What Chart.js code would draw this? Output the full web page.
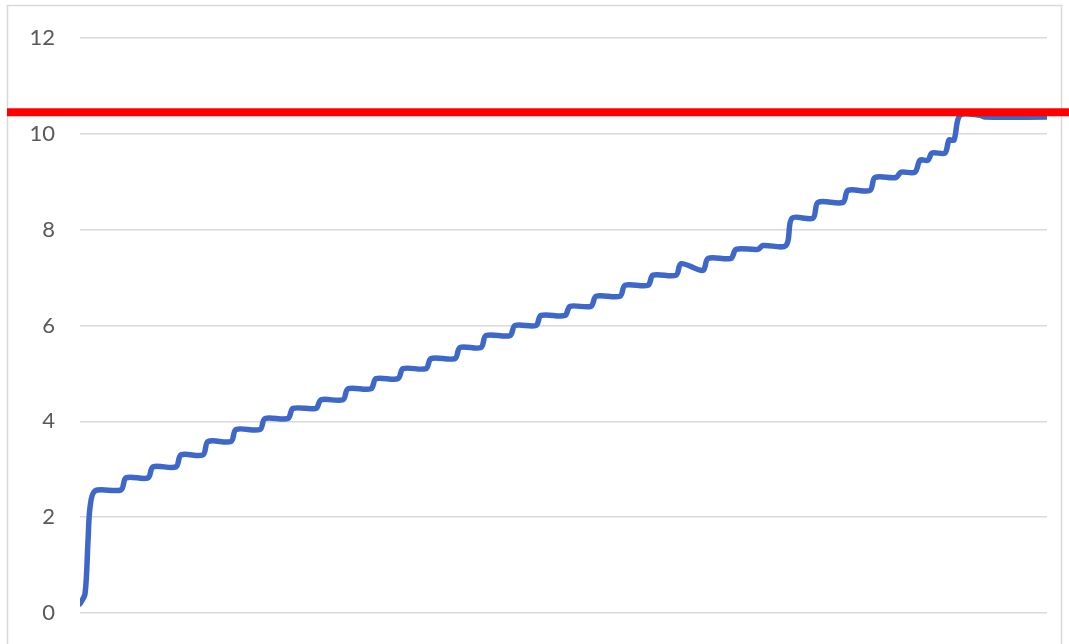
<!DOCTYPE html>
<html lang="en">
<head>
    <meta charset="UTF-8">
    <title>Staircase chart</title>
    <script src="https://cdn.jsdelivr.net/npm/chart.js@4.4.1/dist/chart.umd.min.js"></script>
    <style>
      html, body { margin: 0; padding: 0; background: #fff; overflow: hidden; }
      canvas { display: block; }
    </style>
</head>
<body>
    <canvas id="chartSteps" width="1069" height="644"></canvas>
    <script>
      // sample number along the run
      const sampleX = [0, 5, 8, 10, 15,
        41, 46, 68, 73, 96, 101, 123, 128, 151, 156, 180, 185, 208, 213, 236, 241,
        263, 268, 291, 296, 318, 323, 346, 351, 375, 380, 401, 406, 430, 435, 456, 461,
        485, 490, 511, 516, 540, 545, 568, 573, 596, 601, 623, 628, 651, 656, 678, 683,
        706, 712, 733, 738, 763, 768, 790, 795, 816, 821, 835, 840, 848, 852, 865, 869,
        874, 880, 900, 905, 967];
      // measured value
      const sampleY = [0.19, 0.40, 1.50, 2.20, 2.55,
        2.57, 2.82, 2.82, 3.05, 3.05, 3.30, 3.30, 3.58, 3.58, 3.83, 3.83, 4.06, 4.06, 4.27, 4.27, 4.45,
        4.45, 4.68, 4.68, 4.89, 4.89, 5.10, 5.10, 5.31, 5.31, 5.54, 5.54, 5.79, 5.79, 6.00, 6.00, 6.21,
        6.21, 6.40, 6.40, 6.61, 6.61, 6.84, 6.84, 7.05, 7.05, 7.29, 7.15, 7.40, 7.40, 7.59, 7.59, 7.67,
        7.67, 8.24, 8.24, 8.57, 8.57, 8.82, 8.82, 9.09, 9.09, 9.20, 9.20, 9.45, 9.45, 9.60, 9.60, 9.87,
        9.87, 10.39, 10.39, 10.35, 10.35];
      const yTicks = [0, 2, 4, 6, 8, 10, 12];
      const limitValue = 10.45;

      const points = sampleX.map((x, i) => ({ x: x, y: sampleY[i] }));

      const framePlugin = {
        id: 'frame',
        beforeDraw(chart) {
          const c = chart.ctx;
          c.save();
          c.fillStyle = '#fff';
          c.fillRect(0, 0, chart.width, chart.height);
          c.strokeStyle = '#d9d9d9';
          c.lineWidth = 1.5;
          c.strokeRect(7.5, 5.5, 1054, 660);
          c.restore();
        }
      };

      const limitPlugin = {
        id: 'limitLine',
        afterDatasetsDraw(chart) {
          const c = chart.ctx;
          const y = chart.scales.y.getPixelForValue(limitValue);
          c.save();
          c.strokeStyle = '#ff0000';
          c.lineWidth = 8;
          c.beginPath();
          c.moveTo(7, y);
          c.lineTo(chart.width, y);
          c.stroke();
          c.restore();
        }
      };

      const ctx = document.getElementById('chartSteps').getContext('2d');
      const chartSteps = new Chart(ctx, {
        type: 'line',
        data: {
          datasets: [{
            data: points,
            borderColor: '#3d68c9',
            borderWidth: 5.5,
            pointRadius: 0,
            tension: 0.3,
            borderCapStyle: 'round',
            borderJoinStyle: 'round',
            fill: false
          }]
        },
        options: {
          responsive: false,
          animation: false,
          layout: { padding: { top: 38, right: 22, bottom: 31, left: 0 } },
          plugins: {
            legend: { display: false },
            tooltip: { enabled: false }
          },
          scales: {
            x: {
              type: 'linear',
              display: false,
              min: 0,
              max: 967
            },
            y: {
              min: 0,
              max: 12,
              afterFit: function(scale) {
                scale.width = 80;
                // tick padding should not push the plot area in
                scale.paddingTop = 14;
                scale.paddingBottom = 14;
              },
              afterBuildTicks: function(scale) { scale.ticks = yTicks.map(v => ({ value: v })); },
              border: { display: false },
              grid: { color: '#d9d9d9', lineWidth: 1.5, drawTicks: false },
              ticks: {
                padding: 25,
                color: '#595959',
                font: { family: 'Lato', size: 22 }
              }
            }
          }
        },
        plugins: [framePlugin, limitPlugin]
      });
    </script>
</body>
</html>
